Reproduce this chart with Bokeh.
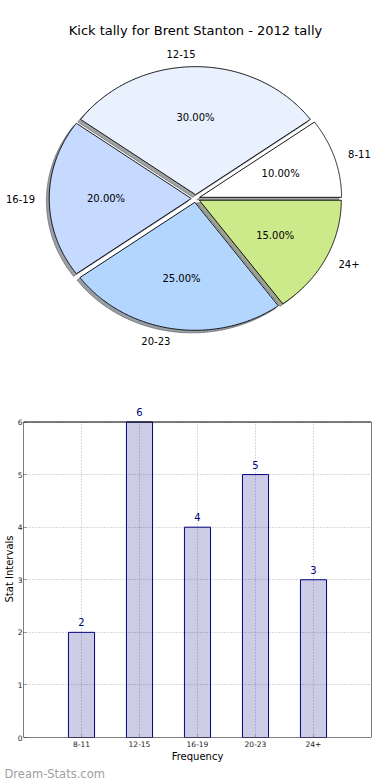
import numpy as np
from bokeh.plotting import figure
from bokeh.models import (ColumnDataSource, Range1d, FactorRange, FixedTicker, Label,
                          LabelSet, BoxAnnotation, Title)
from bokeh.embed import file_html
from bokeh.resources import INLINE
from bokeh.core.properties import value

# ---------------- data ----------------
title_text = "Kick tally for Brent Stanton - 2012 tally"
categories = ["8-11", "12-15", "16-19", "20-23", "24+"]
counts = [2, 6, 4, 5, 3]
slice_colors = ["#ffffff", "#e9f1fe", "#c6d9ff", "#b3d6ff", "#cdea8b"]
y_ticks = [0, 1, 2, 3, 4, 5, 6]
x_label = "Frequency"
y_label = "Stat Intervals"
watermark = "Dream-Stats.com"

# ---------------- style ----------------
FONT = "DejaVu Sans"
W = 390
PIE_H = 392
BAR_H = 388
CX, CY = 195, 198      # pie centre in canvas px
RX, RY = 142, 128      # pie radii in px (elliptical, like the original)
EXPLODE = 0.03
SHADOW = 0.02

# ---------------- pie ----------------
pie = figure(width=W, height=PIE_H,
             x_range=Range1d(-CX / RX, (W - CX) / RX),
             y_range=Range1d(-(PIE_H - CY) / RY, CY / RY),
             x_axis_type=None, y_axis_type=None,
             output_backend="svg", toolbar_location=None, min_border=0)
pie.outline_line_color = None
pie.background_fill_color = "white"

vals = np.array(counts, dtype=float)
fracs = vals / vals.sum()
edges = np.concatenate([[0.0], np.cumsum(fracs)]) * 2 * np.pi
mids = (edges[:-1] + edges[1:]) / 2

xs, ys, sxs, sys_ = [], [], [], []
for i in range(len(vals)):
    t = np.linspace(edges[i], edges[i + 1], 160)
    ox, oy = EXPLODE * np.cos(mids[i]), EXPLODE * np.sin(mids[i])
    px = np.concatenate([[ox], ox + np.cos(t)])
    py = np.concatenate([[oy], oy + np.sin(t)])
    xs.append(px.tolist())
    ys.append(py.tolist())
    sxs.append((px - SHADOW).tolist())
    sys_.append((py - SHADOW).tolist())


def shade(c):
    r, g, b = int(c[1:3], 16), int(c[3:5], 16), int(c[5:7], 16)
    return "#%02x%02x%02x" % (int(r * 0.3), int(g * 0.3), int(b * 0.3))


shadow_colors = [shade(c) for c in slice_colors]
pie.patches(xs=sxs, ys=sys_, fill_color=shadow_colors, fill_alpha=0.5,
            line_color=shadow_colors, line_alpha=0.5, line_width=1)
pie.patches(xs=xs, ys=ys, fill_color=slice_colors, line_color="black", line_width=0.9)

cosm, sinm = np.cos(mids), np.sin(mids)
lab_src = ColumnDataSource(dict(
    x=((1.1 + EXPLODE) * cosm).tolist(),
    y=((1.1 + EXPLODE) * sinm).tolist(),
    text=categories,
    align=["left" if c > 1e-9 else "right" for c in cosm],
))
pie.text(x="x", y="y", text="text", text_align="align", source=lab_src,
         text_baseline="middle", text_font=value(FONT), text_font_size="10px",
         text_color="black")

pct_src = ColumnDataSource(dict(
    x=((0.6 + EXPLODE) * cosm).tolist(),
    y=((0.6 + EXPLODE) * sinm).tolist(),
    text=["%.2f%%" % (f * 100) for f in fracs],
))
pie.text(x="x", y="y", text="text", source=pct_src, text_align="center",
         text_baseline="middle", text_font=value(FONT), text_font_size="10px",
         text_color="black")

pie.add_layout(Label(x=0, y=(CY - 30) / RY, text=title_text, text_align="center",
                     text_baseline="middle", text_font=FONT, text_font_size="13px",
                     text_color="black"))

# ---------------- bar chart ----------------
FRAME_TOP = 400        # canvas px of the (extended) frame top
AX_TOP = 421.7         # canvas px of the axes box top (y = 6)
AX_BOT = 740           # canvas px of the axes box bottom (y = 0)
y_lo, y_hi = y_ticks[0], y_ticks[-1]
y_end = y_lo + (y_hi - y_lo) * (AX_BOT - FRAME_TOP) / (AX_BOT - AX_TOP)

bar = figure(width=W, height=BAR_H,
             x_range=FactorRange(factors=categories, range_padding=0.2,
                                 range_padding_units="percent"),
             y_range=Range1d(y_lo, y_end),
             output_backend="svg", toolbar_location=None,
             min_border_left=19, min_border_right=19,
             min_border_top=FRAME_TOP - PIE_H, min_border_bottom=BAR_H + PIE_H - AX_BOT)
bar.outline_line_color = None
bar.background_fill_color = "white"

bar_src = ColumnDataSource(dict(cat=categories, top=counts,
                                y0=[y_lo] * len(categories), y1=[y_hi] * len(categories),
                                label=[str(c) for c in counts]))

# vertical dotted grid lines at each category, limited to the axes box
bar.xgrid.visible = False
bar.segment(x0="cat", y0="y0", x1="cat", y1="y1", source=bar_src,
            line_color="#b4b4b4", line_dash="1 2", line_width=1)

bar.vbar(x="cat", top="top", width=0.45, source=bar_src,
         fill_color="navy", fill_alpha=0.2, line_color="navy", line_width=1)

bar.add_layout(LabelSet(x="cat", y="top", text="label", source=bar_src,
                        text_align="center", text_baseline="middle", y_offset=10,
                        text_font=value(FONT), text_font_size="10px",
                        text_color="navy"))

bar.add_layout(BoxAnnotation(bottom=y_lo, top=y_hi, fill_color=None, fill_alpha=0,
                             line_color="black", line_width=1, line_alpha=1))

bar.yaxis.ticker = FixedTicker(ticks=y_ticks)
bar.yaxis.bounds = (y_lo, y_hi)
bar.ygrid.grid_line_color = "#b4b4b4"
bar.ygrid.grid_line_dash = "1 2"
bar.ygrid.grid_line_width = 1

bar.xaxis.axis_label = x_label
bar.xaxis.axis_label_standoff = 1
bar.xaxis.major_label_standoff = 3
bar.yaxis.axis_label = y_label
bar.yaxis.axis_label_standoff = 0
bar.yaxis.major_label_standoff = 1
bar.axis.axis_label_text_font = FONT
bar.axis.axis_label_text_font_size = "10px"
bar.axis.axis_label_text_font_style = "normal"
bar.axis.axis_label_text_color = "black"
bar.axis.major_label_text_font = FONT
bar.axis.major_label_text_font_size = "7.5px"
bar.axis.major_label_text_color = "#222222"
bar.axis.major_tick_in = 3
bar.axis.major_tick_out = 0
bar.axis.major_tick_line_color = "#999999"
bar.axis.minor_tick_line_color = None
bar.axis.axis_line_color = None

bar.add_layout(Title(text=watermark, align="left", offset=-19, standoff=0,
                     text_font=FONT, text_font_size="11.5px", text_font_style="normal",
                     text_color="#a0a0a0"), "below")

# two independent roots, stacked, so the pie frame is not aligned to the bar frame
open("out.html", "w").write(file_html([pie, bar], INLINE))
